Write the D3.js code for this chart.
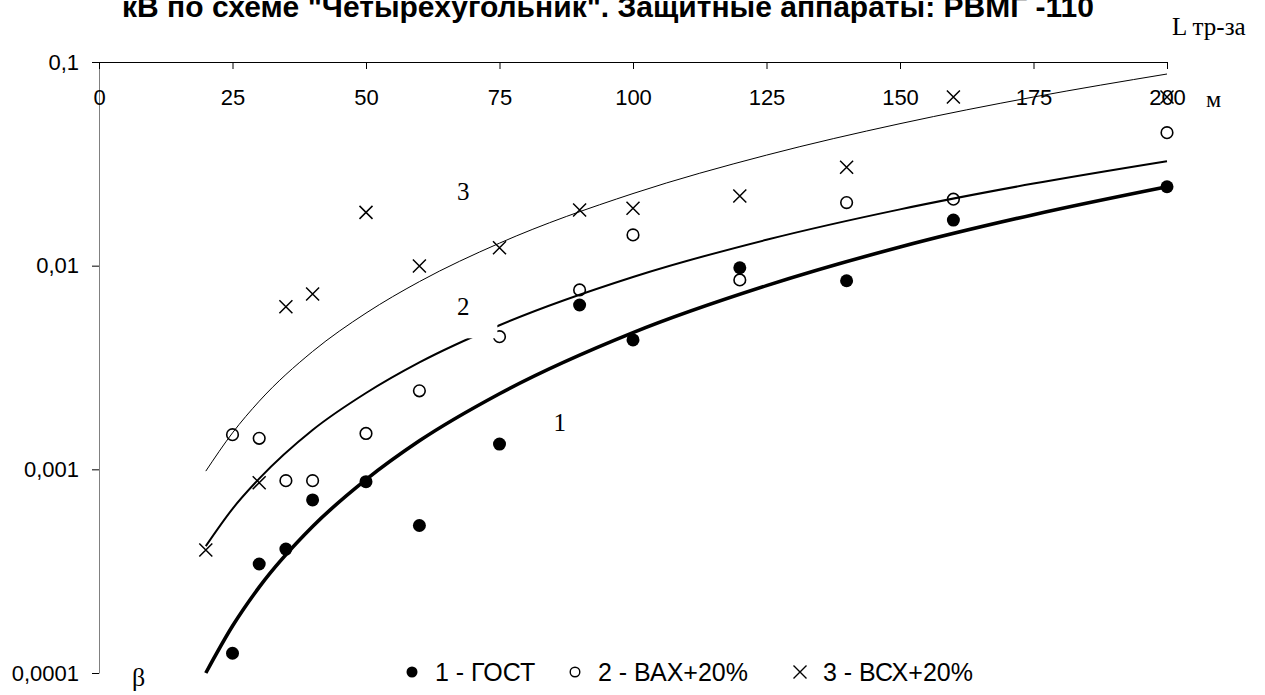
<!DOCTYPE html>
<html>
<head>
<meta charset="utf-8">
<script src="https://cdn.jsdelivr.net/npm/d3@7"></script>
<style>
  html, body { margin: 0; padding: 0; background: #fff; }
  svg { display: block; }
</style>
</head>
<body>
<div id="chart"></div>
<script>
// title (first line of it is cut off in the original)
const title = 'кВ по схеме "Четырехугольник". Защитные аппараты: РВМГ -110';

// x: length L, m ; y: beta (log)
const xTicks = [0, 25, 50, 75, 100, 125, 150, 175, 200];
const yTicks = [0.0001, 0.001, 0.01, 0.1];
const yTickLabels = ['0,0001', '0,001', '0,01', '0,1'];

// points, series 1 - ГОСТ
const L1 = [25, 30, 35, 40, 50, 60, 75, 90, 100, 120, 140, 160, 200];
const gost = [1.25e-4, 3.43e-4, 4.06e-4, 7.08e-4, 8.7e-4, 5.3e-4, 1.33e-3, 6.41e-3, 4.32e-3, 9.77e-3, 8.43e-3, 1.675e-2, 2.44e-2];

// series 2 - ВАХ+20%
const L2 = [25, 30, 35, 40, 50, 60, 75, 90, 100, 120, 140, 160, 200];
const vax = [1.48e-3, 1.42e-3, 8.8e-4, 8.8e-4, 1.5e-3, 2.43e-3, 4.48e-3, 7.6e-3, 1.416e-2, 8.51e-3, 2.04e-2, 2.12e-2, 4.5e-2];

// series 3 - ВСХ+20%
const L3 = [20, 30, 35, 40, 50, 60, 75, 90, 100, 120, 140, 160, 200];
const vsx = [4.02e-4, 8.6e-4, 6.29e-3, 7.26e-3, 1.827e-2, 9.97e-3, 1.225e-2, 1.875e-2, 1.913e-2, 2.2e-2, 3.04e-2, 6.73e-2, 6.73e-2];

// trend curves 1, 2, 3
const trendL = [20, 25, 30, 40, 50, 60, 75, 100, 125, 150, 175, 200];
const trend1 = [1.0e-4, 1.7e-4, 2.64e-4, 5.24e-4, 8.9e-4, 1.38e-3, 2.35e-3, 4.69e-3, 7.98e-3, 1.235e-2, 1.78e-2, 2.44e-2];
const trend2 = [4.2e-4, 6.4e-4, 9.0e-4, 1.56e-3, 2.37e-3, 3.35e-3, 5.1e-3, 8.8e-3, 1.34e-2, 1.89e-2, 2.53e-2, 3.26e-2];
const trend3 = [9.8e-4, 1.51e-3, 2.16e-3, 3.79e-3, 5.85e-3, 8.35e-3, 1.29e-2, 2.26e-2, 3.49e-2, 4.98e-2, 6.73e-2, 8.73e-2];

// curve number labels
const curveLabels = [
  {text: '1', L: 86.3, v: 1.55e-3},
  {text: '2', L: 68.2, v: 5.73e-3},
  {text: '3', L: 68.2, v: 2.1e-2}
];

const legendItems = ['1 - ГОСТ', '2 - ВАХ+20%', '3 - ВСХ+20%'];

const width = 1265, height = 695;
const sans = '"Liberation Sans", Arial, sans-serif';
const serif = '"Liberation Serif", "Times New Roman", serif';

const svg = d3.select('#chart').append('svg')
  .attr('width', width)
  .attr('height', height);

const x = d3.scaleLinear().domain([0, 200]).range([99, 1167]);
const y = d3.scaleLog().domain([0.0001, 0.1]).range([673, 62]);

// title
svg.append('text')
  .attr('x', 608).attr('y', 17)
  .attr('text-anchor', 'middle')
  .style('font-family', sans).style('font-weight', 'bold').style('font-size', '30px')
  .text(title);

// y axis (left)
const gy = svg.append('g')
  .attr('transform', `translate(${x(0)},0)`)
  .call(d3.axisLeft(y).tickValues(yTicks)
    .tickFormat((d, i) => yTickLabels[i])
    .tickSize(7).tickSizeOuter(0).tickPadding(13));
gy.select('.domain').attr('stroke', '#808080');
gy.selectAll('.tick line').attr('stroke', '#000');
gy.selectAll('.tick text').style('font-family', sans).style('font-size', '22px').attr('fill', '#000');

// x axis along the top, ticks downward
const gx = svg.append('g')
  .attr('transform', `translate(0,${y(0.1)})`)
  .call(d3.axisBottom(x).tickValues(xTicks)
    .tickSize(7).tickSizeOuter(0).tickPadding(20));
gx.select('.domain').attr('stroke', '#000');
gx.selectAll('.tick text').style('font-family', sans).style('font-size', '22px').attr('fill', '#000');

// axis captions
svg.append('text').attr('x', 1172).attr('y', 35)
  .style('font-family', serif).style('font-size', '25px').text('L тр-за');
svg.append('text').attr('x', 1206).attr('y', 107)
  .style('font-family', serif).style('font-size', '24px').text('м');
svg.append('text').attr('x', 132).attr('y', 686)
  .style('font-family', serif).style('font-size', '26px').text('β');

// trend curves
const line = d3.line()
  .curve(d3.curveMonotoneX)
  .x(d => x(d[0]))
  .y(d => y(d[1]));

const trends = [
  {vals: trend3, w: 1},
  {vals: trend2, w: 2},
  {vals: trend1, w: 3.6}
];
svg.append('g').selectAll('path')
  .data(trends)
  .join('path')
  .attr('fill', 'none')
  .attr('stroke', '#000')
  .attr('stroke-width', d => d.w)
  .attr('d', d => line(trendL.map((l, i) => [l, d.vals[i]])));

// markers
const pts = svg.append('g');

pts.selectAll('circle.gost')
  .data(L1.map((l, i) => [l, gost[i]]))
  .join('circle')
  .attr('class', 'gost')
  .attr('cx', d => x(d[0])).attr('cy', d => y(d[1]))
  .attr('r', 6.5).attr('fill', '#000');

pts.selectAll('circle.vax')
  .data(L2.map((l, i) => [l, vax[i]]))
  .join('circle')
  .attr('class', 'vax')
  .attr('cx', d => x(d[0])).attr('cy', d => y(d[1]))
  .attr('r', 5.8).attr('fill', 'none')
  .attr('stroke', '#000').attr('stroke-width', 1.6);

const cross = s => `M${-s},${-s}L${s},${s}M${-s},${s}L${s},${-s}`;
pts.selectAll('path.vsx')
  .data(L3.map((l, i) => [l, vsx[i]]))
  .join('path')
  .attr('class', 'vsx')
  .attr('transform', d => `translate(${x(d[0])},${y(d[1])})`)
  .attr('d', cross(6.5))
  .attr('fill', 'none').attr('stroke', '#000').attr('stroke-width', 1.5);

// white box behind label "2" (it hides a bit of curve 2 in the original)
svg.append('rect')
  .attr('x', x(66)).attr('y', y(7.8e-3))
  .attr('width', x(74.6) - x(66))
  .attr('height', y(4.4e-3) - y(7.8e-3))
  .attr('fill', '#fff');

svg.append('g').selectAll('text')
  .data(curveLabels)
  .join('text')
  .attr('x', d => x(d.L)).attr('y', d => y(d.v))
  .attr('text-anchor', 'middle')
  .style('font-family', serif).style('font-size', '25px')
  .text(d => d.text);

// legend
const legendX = [412, 575, 800];
const lg = svg.append('g').attr('transform', 'translate(0,672)');
lg.append('circle').attr('cx', legendX[0]).attr('cy', 0).attr('r', 5.5).attr('fill', '#000');
lg.append('circle').attr('cx', legendX[1]).attr('cy', 0).attr('r', 4.8)
  .attr('fill', 'none').attr('stroke', '#000').attr('stroke-width', 1.4);
lg.append('path').attr('transform', `translate(${legendX[2]},0)`)
  .attr('d', cross(6.5)).attr('stroke', '#000').attr('stroke-width', 1.4);
lg.selectAll('text')
  .data(legendItems)
  .join('text')
  .attr('x', (d, i) => legendX[i] + 23)
  .attr('y', 9)
  .style('font-family', sans).style('font-size', '25px')
  .text(d => d);
</script>
</body>
</html>
